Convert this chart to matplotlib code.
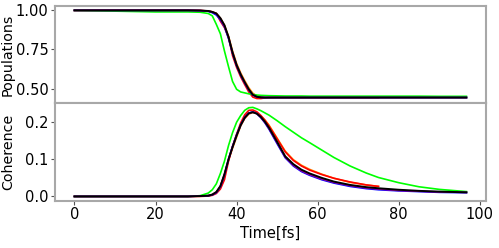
import matplotlib
matplotlib.use("Agg")
import matplotlib.pyplot as plt

# time grid (fs)
time = [0, 10, 20, 28, 31, 33, 34, 35, 36, 37, 38, 39, 40, 41, 42, 43, 44, 45, 46, 47,
        48, 50, 52, 54, 56, 58, 61, 64, 68, 72, 75, 80, 85, 90, 96.7]
n_short = 31  # red / orange runs end at t = 75 fs

# populations
pop_green = [1.0, 0.995, 0.99, 0.99, 0.988, 0.98, 0.965, 0.91, 0.85, 0.74, 0.64, 0.545, 0.495,
             0.478, 0.472, 0.466, 0.462, 0.458, 0.456, 0.455, 0.454, 0.453, 0.452, 0.452, 0.452,
             0.451, 0.451, 0.451, 0.451, 0.451, 0.451, 0.451, 0.451, 0.45, 0.45]
pop_red = [1.0, 1.0, 1.0, 1.0, 0.999, 0.995, 0.99, 0.98, 0.93, 0.89, 0.83, 0.71, 0.635, 0.575,
           0.525, 0.478, 0.445, 0.436, 0.436, 0.44, 0.442, 0.443, 0.443, 0.443, 0.443, 0.443,
           0.443, 0.443, 0.443, 0.443, 0.443]
pop_orange = [1.0, 1.0, 1.0, 1.0, 0.999, 0.996, 0.99, 0.98, 0.95, 0.905, 0.835, 0.74, 0.66, 0.6,
              0.55, 0.505, 0.47, 0.452, 0.445, 0.442, 0.443, 0.443, 0.443, 0.443, 0.443, 0.443,
              0.443, 0.443, 0.443, 0.443, 0.443]
pop_blue = [1.0, 1.0, 1.0, 1.0, 0.998, 0.994, 0.985, 0.97, 0.94, 0.895, 0.82, 0.725, 0.645, 0.585,
            0.535, 0.49, 0.458, 0.446, 0.443, 0.442, 0.442, 0.442, 0.442, 0.442, 0.442, 0.442,
            0.442, 0.442, 0.442, 0.442, 0.442, 0.442, 0.442, 0.442, 0.442]
pop_purple = [1.0, 1.0, 1.0, 1.0, 0.999, 0.996, 0.99, 0.978, 0.948, 0.9, 0.825, 0.73, 0.65, 0.59,
              0.54, 0.493, 0.46, 0.447, 0.443, 0.442, 0.442, 0.442, 0.442, 0.442, 0.442, 0.442,
              0.442, 0.442, 0.442, 0.442, 0.442, 0.442, 0.442, 0.442, 0.442]
pop_black = [1.0, 1.0, 1.0, 1.0, 0.999, 0.996, 0.99, 0.98, 0.95, 0.905, 0.83, 0.73, 0.65, 0.59,
             0.54, 0.495, 0.46, 0.447, 0.443, 0.442, 0.442, 0.442, 0.442, 0.442, 0.442, 0.442,
             0.442, 0.442, 0.442, 0.442, 0.442, 0.442, 0.442, 0.442, 0.442]

# coherence
coh_green = [0.0, 0.0, 0.0, 0.0, 0.002, 0.009, 0.018, 0.034, 0.062, 0.095, 0.137, 0.172, 0.2,
             0.218, 0.232, 0.239, 0.24, 0.236, 0.231, 0.225, 0.219, 0.204, 0.188, 0.173, 0.158,
             0.145, 0.125, 0.105, 0.082, 0.063, 0.051, 0.037, 0.026, 0.019, 0.013]
coh_red = [0.0, 0.0, 0.0, 0.0, 0.0, 0.001, 0.003, 0.008, 0.02, 0.045, 0.095, 0.135, 0.168, 0.198,
           0.22, 0.232, 0.233, 0.228, 0.218, 0.205, 0.19, 0.155, 0.12, 0.097, 0.082, 0.071,
           0.059, 0.049, 0.039, 0.031, 0.027]
coh_orange = [0.0, 0.0, 0.0, 0.0, 0.001, 0.002, 0.005, 0.012, 0.028, 0.058, 0.097, 0.13, 0.16,
              0.19, 0.21, 0.222, 0.226, 0.224, 0.217, 0.206, 0.192, 0.157, 0.122, 0.099, 0.084,
              0.073, 0.06, 0.049, 0.038, 0.031, 0.027]
coh_blue = [0.0, 0.0, 0.0, 0.0, 0.001, 0.002, 0.004, 0.01, 0.026, 0.058, 0.1, 0.135, 0.166, 0.193,
            0.213, 0.225, 0.228, 0.223, 0.212, 0.198, 0.181, 0.142, 0.104, 0.082, 0.067, 0.057,
            0.045, 0.036, 0.027, 0.021, 0.018, 0.015, 0.013, 0.011, 0.01]
coh_purple = [0.0, 0.0, 0.0, 0.0, 0.001, 0.002, 0.005, 0.011, 0.027, 0.059, 0.1, 0.134, 0.165,
              0.192, 0.212, 0.224, 0.227, 0.223, 0.213, 0.2, 0.183, 0.145, 0.106, 0.084, 0.069,
              0.059, 0.047, 0.038, 0.029, 0.023, 0.02, 0.016, 0.014, 0.012, 0.011]
coh_black = [0.0, 0.0, 0.0, 0.0, 0.001, 0.002, 0.005, 0.012, 0.028, 0.06, 0.1, 0.133, 0.164,
             0.192, 0.212, 0.224, 0.227, 0.223, 0.214, 0.201, 0.185, 0.147, 0.108, 0.087, 0.072,
             0.062, 0.05, 0.04, 0.031, 0.025, 0.022, 0.018, 0.015, 0.013, 0.011]

xticks = [0, 20, 40, 60, 80, 100]
pop_ticks = [0.50, 0.75, 1.00]
coh_ticks = [0.0, 0.1, 0.2]

fig = plt.figure(figsize=(4.99, 2.48), dpi=100)
ax1 = fig.add_axes([0.110, 0.585, 0.864, 0.391])
ax2 = fig.add_axes([0.110, 0.190, 0.864, 0.395], sharex=ax1)

t_short = time[:n_short]
series = [
    (t_short, pop_orange, coh_orange, "#ff8c00", 1.2),
    (t_short, pop_red, coh_red, "#ff0000", 1.2),
    (time, pop_green, coh_green, "#00ff00", 1.2),
    (time, pop_blue, coh_blue, "#0000ff", 1.2),
    (time, pop_purple, coh_purple, "#a000a0", 1.2),
    (time, pop_black, coh_black, "#000000", 1.4),
]
for tt, p, c, col, lw in series:
    ax1.plot(tt, p, color=col, lw=lw)
    ax2.plot(tt, c, color=col, lw=lw)

fs = 10.5
for ax in (ax1, ax2):
    for sp in ax.spines.values():
        sp.set_color("#a8a8a8")
        sp.set_linewidth(1.5)
    ax.tick_params(labelsize=fs, length=3, color="#555555", pad=1.5)

ax1.set_yticks(pop_ticks)
ax1.set_yticklabels(["%.2f" % v for v in pop_ticks])
ax2.set_yticks(coh_ticks)
ax2.set_yticklabels(["%.1f" % v for v in coh_ticks])
ax2.set_xticks(xticks)
ax1.tick_params(labelbottom=False)

ax1.set_ylabel("Populations", fontsize=10.3)
ax2.set_ylabel("Coherence", fontsize=10.3)
ax1.yaxis.set_label_coords(-0.093, 0.5)
ax2.yaxis.set_label_coords(-0.093, 0.5)
ax2.set_xlabel("Time[fs]", fontsize=10.5, labelpad=3)

fig.savefig("out.png", dpi=100)
